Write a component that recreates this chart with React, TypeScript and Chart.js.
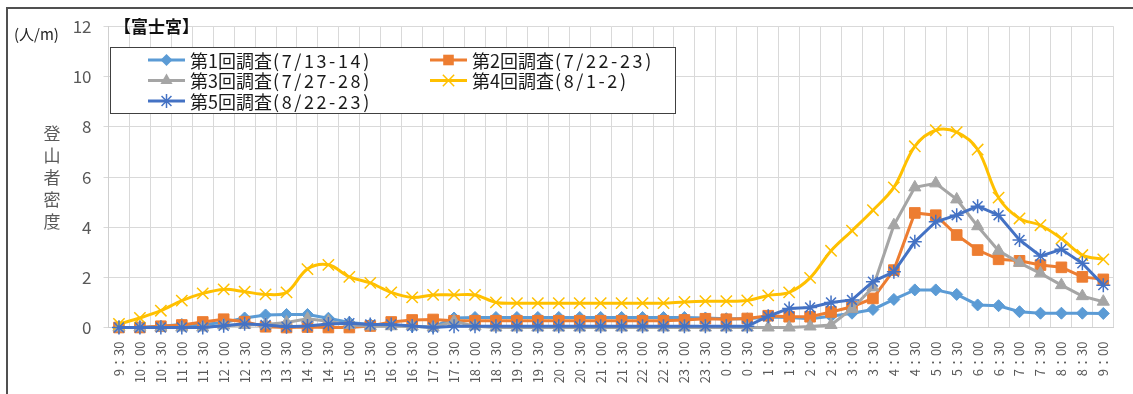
import React, { useEffect, useRef } from "react";
import { Chart, registerables } from "chart.js";

Chart.register(...registerables);

const timeLabels = [
  "9：30", "10：00", "10：30", "11：00", "11：30", "12：00", "12：30", "13：00", "13：30", "14：00",
  "14：30", "15：00", "15：30", "16：00", "16：30", "17：00", "17：30", "18：00", "18：30", "19：00",
  "19：30", "20：00", "20：30", "21：00", "21：30", "22：00", "22：30", "23：00", "23：30", "0：00",
  "0：30", "1：00", "1：30", "2：00", "2：30", "3：00", "3：30", "4：00", "4：30", "5：00",
  "5：30", "6：00", "6：30", "7：00", "7：30", "8：00", "8：30", "9：00",
];

const seriesNames = [
  "第1回調査(7/13-14)",
  "第2回調査(7/22-23)",
  "第3回調査(7/27-28)",
  "第4回調査(8/1-2)",
  "第5回調査(8/22-23)",
];

const survey1 = [
  0, 0, 0.05, 0.12, 0.12, 0.2, 0.38, 0.5, 0.52, 0.52,
  0.37, 0.2, 0.12, 0.1, 0.05, 0.02, 0.38, 0.4, 0.4, 0.4,
  0.4, 0.4, 0.4, 0.4, 0.4, 0.4, 0.4, 0.4, 0.38, 0.35,
  0.35, 0.42, 0.4, 0.35, 0.45, 0.57, 0.72, 1.12, 1.5, 1.5,
  1.32, 0.9, 0.87, 0.63, 0.57, 0.57, 0.57, 0.56,
];

const survey2 = [
  0, 0, 0.05, 0.1, 0.22, 0.33, 0.23, 0.03, 0, 0.02,
  0, 0, 0.06, 0.22, 0.3, 0.32, 0.27, 0.27, 0.27, 0.27,
  0.27, 0.27, 0.27, 0.27, 0.27, 0.27, 0.27, 0.3, 0.35, 0.33,
  0.36, 0.47, 0.43, 0.43, 0.62, 0.83, 1.16, 2.29, 4.57, 4.48,
  3.69, 3.09, 2.72, 2.66, 2.49, 2.4, 2.02, 1.92,
];

const survey3 = [
  0, 0, 0, 0, 0, 0.08, 0.1, 0.12, 0.2, 0.35,
  0.25, 0.1, 0.05, 0.05, 0.05, 0, 0.25, 0.05, 0, 0,
  0, 0, 0, 0, 0, 0, 0, 0, 0, 0,
  0, 0, 0, 0.04, 0.1, 0.75, 1.6, 4.08, 5.59, 5.75,
  5.11, 4.04, 3.06, 2.58, 2.16, 1.69, 1.25, 1.03,
];

const survey4 = [
  0.14, 0.38, 0.67, 1.07, 1.36, 1.52, 1.43, 1.32, 1.4, 2.33,
  2.5, 2.02, 1.78, 1.4, 1.2, 1.3, 1.3, 1.3, 1.0, 0.97,
  0.97, 0.97, 0.97, 0.97, 0.97, 0.97, 0.97, 1.02, 1.05, 1.05,
  1.08, 1.28, 1.4, 1.98, 3.06, 3.86, 4.68, 5.59, 7.23, 7.87,
  7.79, 7.1, 5.18, 4.35, 4.08, 3.55, 2.89, 2.72,
];

const survey5 = [
  0, 0, 0, 0, 0, 0.07, 0.15, 0.1, 0.03, 0.06,
  0.14, 0.17, 0.12, 0.12, 0.06, 0, 0.05, 0.05, 0.05, 0.05,
  0.05, 0.05, 0.05, 0.05, 0.05, 0.05, 0.05, 0.05, 0.05, 0.05,
  0.05, 0.45, 0.76, 0.8, 1.0, 1.1, 1.83, 2.22, 3.42, 4.22,
  4.48, 4.84, 4.48, 3.49, 2.85, 3.12, 2.56, 1.69,
];

const yTicks = [0, 2, 4, 6, 8, 10, 12];

const colors = ["#5B9BD5", "#ED7D31", "#A5A5A5", "#FFC000", "#4472C4"];
const markerStyles = ["rectRot", "rect", "triangle", "crossRot", "star"];
const markerRadius = [6, 7.5, 7, 8, 7];

const FONT = "'Noto Sans CJK JP', 'Noto Sans', sans-serif";

function drawMarker(ctx: CanvasRenderingContext2D, style: string, x: number, y: number, r: number, color: string) {
  ctx.save();
  ctx.fillStyle = color;
  ctx.strokeStyle = color;
  ctx.lineWidth = 1.5;
  ctx.beginPath();
  if (style === "rectRot") {
    ctx.moveTo(x - r, y);
    ctx.lineTo(x, y - r);
    ctx.lineTo(x + r, y);
    ctx.lineTo(x, y + r);
    ctx.closePath();
    ctx.fill();
  } else if (style === "rect") {
    const s = r * Math.SQRT1_2;
    ctx.rect(x - s, y - s, 2 * s, 2 * s);
    ctx.fill();
  } else if (style === "triangle") {
    for (let k = 0; k < 3; k++) {
      const a = -Math.PI / 2 + (k * 2 * Math.PI) / 3;
      const px = x + Math.cos(a) * r;
      const py = y + Math.sin(a) * r;
      if (k === 0) ctx.moveTo(px, py);
      else ctx.lineTo(px, py);
    }
    ctx.closePath();
    ctx.fill();
  } else if (style === "crossRot") {
    const o = r * Math.SQRT1_2;
    ctx.moveTo(x - o, y - o);
    ctx.lineTo(x + o, y + o);
    ctx.moveTo(x - o, y + o);
    ctx.lineTo(x + o, y - o);
    ctx.stroke();
  } else if (style === "star") {
    const o = r * Math.SQRT1_2;
    ctx.moveTo(x, y - r);
    ctx.lineTo(x, y + r);
    ctx.moveTo(x - r, y);
    ctx.lineTo(x + r, y);
    ctx.moveTo(x - o, y - o);
    ctx.lineTo(x + o, y + o);
    ctx.moveTo(x - o, y + o);
    ctx.lineTo(x + o, y - o);
    ctx.stroke();
  }
  ctx.restore();
}

const legendBox = { left: 110, top: 47, width: 565, height: 66 };
const legendCols = [148, 430];
const legendRows = [60, 80.5, 101];

const legendPlugin = {
  id: "boxLegend",
  beforeDatasetsDraw(chart: any) {
    const ctx: any = chart.ctx;
    ctx.save();
    ctx.fillStyle = "#ffffff";
    ctx.fillRect(legendBox.left, legendBox.top, legendBox.width, legendBox.height);
    ctx.strokeStyle = "#404040";
    ctx.lineWidth = 1;
    ctx.strokeRect(legendBox.left + 0.5, legendBox.top + 0.5, legendBox.width, legendBox.height);
    ctx.font = `18px ${FONT}`;
    ctx.textBaseline = "middle";
    ctx.textAlign = "left";
    seriesNames.forEach((name, i) => {
      const col = i % 2;
      const row = Math.floor(i / 2);
      const x0 = legendCols[col];
      const y = legendRows[row];
      ctx.strokeStyle = colors[i];
      ctx.lineWidth = 3;
      ctx.beginPath();
      ctx.moveTo(x0, y);
      ctx.lineTo(x0 + 37, y);
      ctx.stroke();
      drawMarker(ctx, markerStyles[i], x0 + 18.5, y, markerRadius[i], colors[i]);
      ctx.fillStyle = "#1a1a1a";
      const cut = name.indexOf("(");
      const head = name.slice(0, cut);
      const tail = name.slice(cut);
      ctx.letterSpacing = "0px";
      ctx.fillText(head, x0 + 42, y + 1);
      const w = ctx.measureText(head).width;
      ctx.letterSpacing = "2.6px";
      ctx.fillText(tail, x0 + 42 + w + 1, y + 1);
      ctx.letterSpacing = "0px";
    });
    ctx.restore();
  },
};

export default function App() {
  const canvasRef = useRef<HTMLCanvasElement | null>(null);

  useEffect(() => {
    if (!canvasRef.current) return;
    Chart.defaults.font.family = FONT;
    const allSeries = [survey1, survey2, survey3, survey4, survey5];
    const datasets = allSeries.map((values, i) => ({
      label: seriesNames[i],
      data: values,
      borderColor: colors[i],
      backgroundColor: colors[i],
      borderWidth: 3,
      pointStyle: markerStyles[i] as any,
      pointRadius: markerRadius[i],
      pointBorderWidth: i >= 3 ? 1.5 : 1,
      pointBackgroundColor: colors[i],
      pointBorderColor: colors[i],
      tension: i === 3 ? 0.35 : 0,
      fill: false,
      clip: false as any,
      order: 5 - i,
    }));

    const chart = new Chart(canvasRef.current, {
      type: "line",
      data: { labels: timeLabels, datasets },
      options: {
        animation: false,
        responsive: false,
        maintainAspectRatio: false,
        devicePixelRatio: 1,
        layout: { padding: { top: 26.7, right: 9.4, left: 0, bottom: 0 } },
        plugins: {
          legend: { display: false },
          tooltip: { enabled: false },
        },
        scales: {
          x: {
            type: "category",
            offset: true,
            grid: { offset: true, color: "#D9D9D9", drawTicks: false },
            border: { color: "#CFCFCF" },
            ticks: {
              autoSkip: false,
              maxRotation: 90,
              minRotation: 90,
              padding: 14,
              color: "#595959",
              font: { size: 13, family: FONT },
            },
            afterFit: (s: any) => {
              s.height = 66.5;
            },
          },
          y: {
            min: yTicks[0],
            max: yTicks[yTicks.length - 1],
            afterBuildTicks: (s: any) => {
              s.ticks = yTicks.map((v) => ({ value: v }));
            },
            ticks: {
              stepSize: 2,
              padding: 12,
              color: "#595959",
              font: { size: 17, family: FONT },
            },
            grid: { color: "#D9D9D9", tickLength: 5 },
            border: { color: "#CFCFCF" },
            afterFit: (s: any) => {
              s.width = 108.5;
            },
          },
        },
      },
      plugins: [legendPlugin],
    });
    return () => chart.destroy();
  }, []);

  return (
    <div style={{ position: "absolute", left: 0, top: 0, width: 1133, height: 394, overflow: "hidden", fontFamily: FONT }}>
      <div
        style={{
          position: "absolute",
          left: 6,
          top: 7,
          width: 1125,
          height: 385,
          borderLeft: "2px solid #505050",
          borderTop: "2px solid #505050",
        }}
      />
      <canvas ref={canvasRef} width={1133} height={394} style={{ position: "absolute", left: 0, top: 0, width: 1133, height: 394 }} />
      <div style={{ position: "absolute", left: 114, top: 13, fontSize: 17, fontWeight: "bold", color: "#111", lineHeight: "26px", whiteSpace: "nowrap" }}>
        【富士宮】
      </div>
      <div style={{ position: "absolute", left: 14, top: 22, fontSize: 15, color: "#222", lineHeight: "24px", whiteSpace: "nowrap" }}>
        (人/m)
      </div>
      <div
        style={{
          position: "absolute",
          left: 42,
          top: 122,
          width: 20,
          fontSize: 17,
          color: "#595959",
          lineHeight: "22px",
          textAlign: "center",
        }}
      >
        {"登山者密度".split("").map((c, i) => (
          <div key={i}>{c}</div>
        ))}
      </div>
    </div>
  );
}
